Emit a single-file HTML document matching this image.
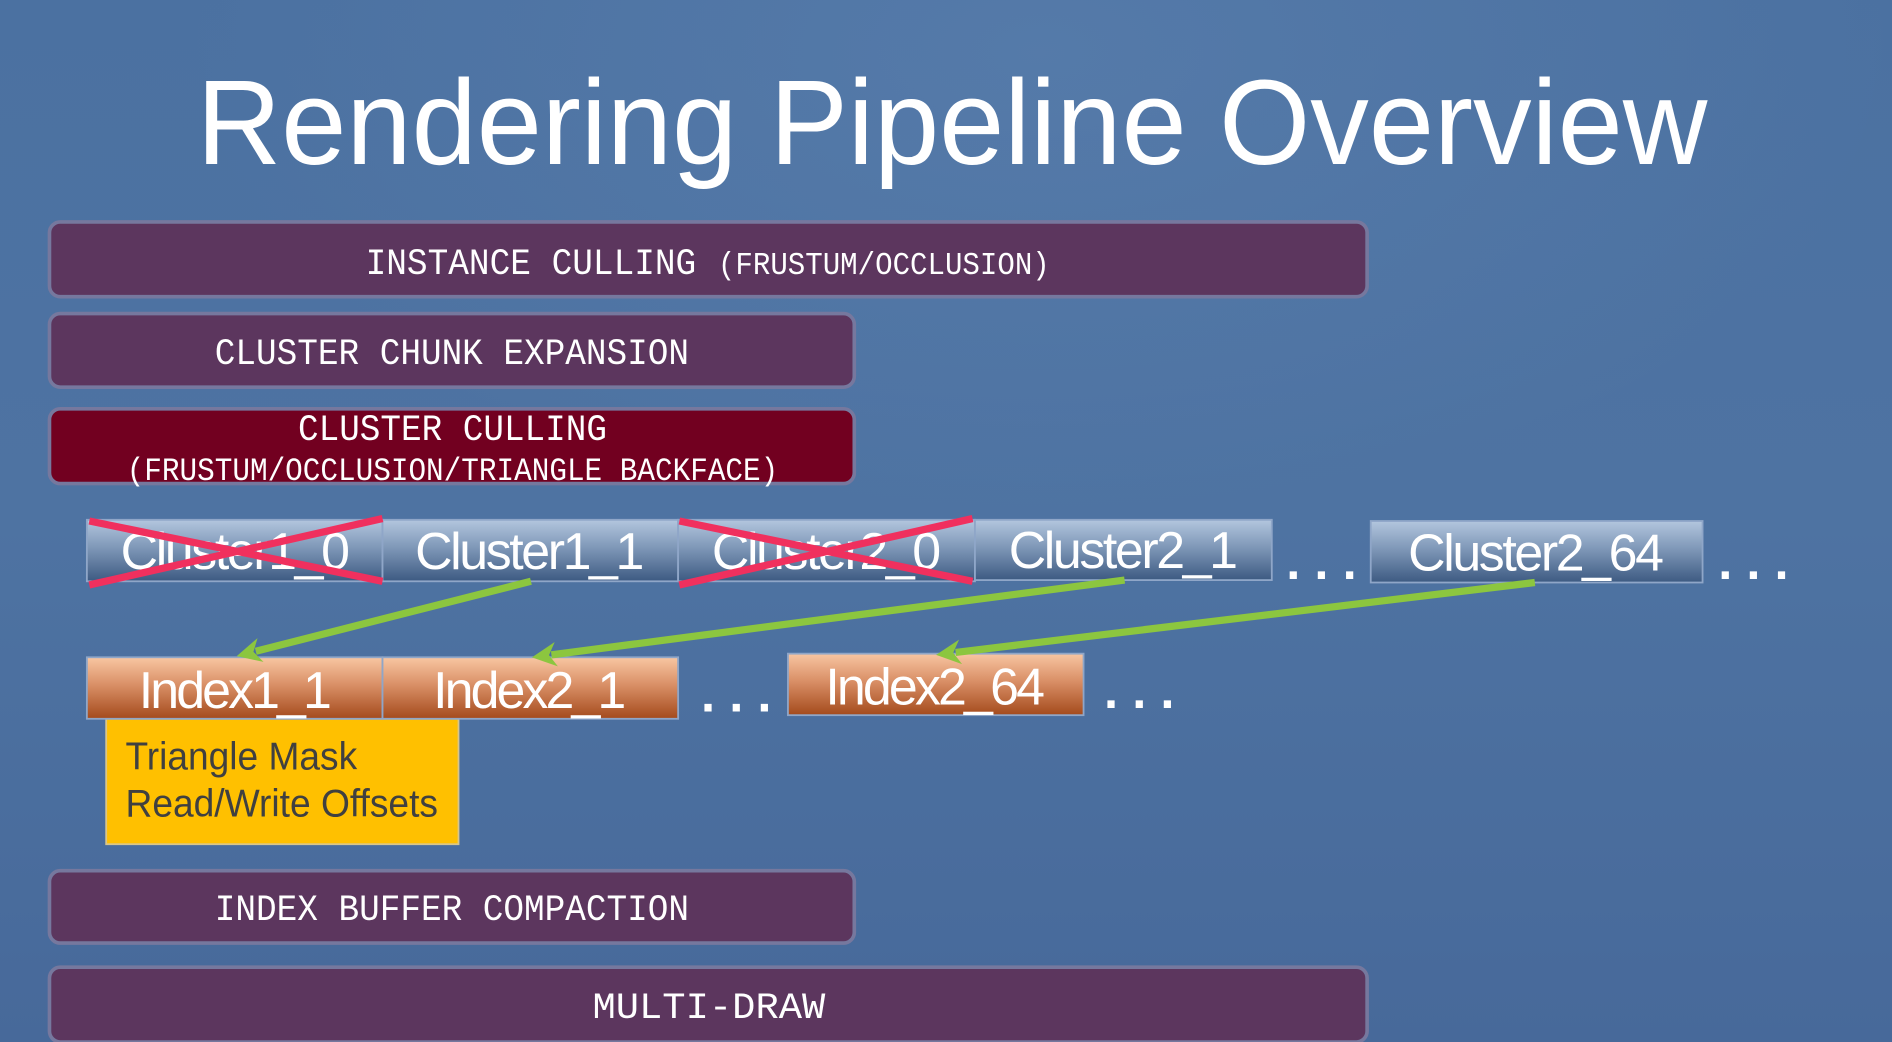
<!DOCTYPE html>
<html><head><meta charset="utf-8"><style>
html,body{margin:0;padding:0;width:1892px;height:1042px;overflow:hidden;background:#4a6f9f}
svg{display:block}
.m{font-family:"Liberation Mono","DejaVu Sans Mono",monospace;fill:#fff}
.s{font-family:"Liberation Sans",Arial,sans-serif;fill:#fff}
</style></head><body>
<svg width="1892" height="1042" viewBox="0 0 1568 864" preserveAspectRatio="none" xmlns="http://www.w3.org/2000/svg">
<defs>
<linearGradient id="bg" x1="0" y1="0" x2="0" y2="1">
<stop offset="0" stop-color="#4b71a1"/><stop offset="0.5" stop-color="#4e73a2"/><stop offset="1" stop-color="#47699a"/>
</linearGradient>
<radialGradient id="glow" cx="0.55" cy="0.05" r="0.45"><stop offset="0" stop-color="#6b8fbc" stop-opacity="0.3"/><stop offset="1" stop-color="#6b8fbc" stop-opacity="0"/></radialGradient>
<linearGradient id="cl" x1="0" y1="0" x2="0" y2="1">
<stop offset="0" stop-color="#b3c6de"/><stop offset="0.45" stop-color="#7f98b8"/><stop offset="1" stop-color="#3d5a82"/>
</linearGradient>
<linearGradient id="ix" x1="0" y1="0" x2="0" y2="1">
<stop offset="0" stop-color="#f8c6a2"/><stop offset="0.45" stop-color="#d98f66"/><stop offset="1" stop-color="#a44a1c"/>
</linearGradient>
<marker id="ah" viewBox="0 0 10 10" refX="2" refY="5" markerWidth="3.4" markerHeight="3.4" orient="auto">
<path d="M0,5 L10,0 L7,5 L10,10 Z" fill="#8cc63f" transform="rotate(180 5 5)"/>
</marker>
</defs>
<rect width="1568" height="864" fill="url(#bg)"/>
<rect width="1568" height="864" fill="url(#glow)"/>
<text x="789" y="136" class="s" font-size="100" text-anchor="middle" textLength="1252" lengthAdjust="spacingAndGlyphs">Rendering Pipeline Overview</text>

<g stroke="#76789e" stroke-width="3">
<rect x="41" y="184" width="1092" height="62" rx="9" fill="#5c365e"/>
<rect x="41" y="260" width="667" height="61" rx="9" fill="#5c365e"/>
<rect x="41" y="339" width="667" height="62" rx="9" fill="#720020"/>
<rect x="41" y="722" width="667" height="60" rx="9" fill="#5c365e"/>
<rect x="41" y="802" width="1092" height="62" rx="9" fill="#5c365e"/>
</g>
<text x="303" y="227" class="m" font-size="31" textLength="274" lengthAdjust="spacingAndGlyphs">INSTANCE CULLING</text>
<text x="595" y="227" class="m" font-size="26" textLength="275" lengthAdjust="spacingAndGlyphs">(FRUSTUM/OCCLUSION)</text>
<text x="178" y="302" class="m" font-size="31" textLength="393" lengthAdjust="spacingAndGlyphs">CLUSTER CHUNK EXPANSION</text>
<text x="247" y="365" class="m" font-size="31" textLength="256" lengthAdjust="spacingAndGlyphs">CLUSTER CULLING</text>
<text x="105" y="398" class="m" font-size="27" textLength="540" lengthAdjust="spacingAndGlyphs">(FRUSTUM/OCCLUSION/TRIANGLE BACKFACE)</text>
<text x="178" y="763" class="m" font-size="31" textLength="393" lengthAdjust="spacingAndGlyphs">INDEX BUFFER COMPACTION</text>
<text x="491" y="844" class="m" font-size="31" textLength="193" lengthAdjust="spacingAndGlyphs">MULTI-DRAW</text>

<g stroke="#8fa6c8" stroke-width="1.5">
<rect x="72" y="431" width="245" height="51" fill="url(#cl)"/>
<rect x="317" y="431" width="245" height="51" fill="url(#cl)"/>
<rect x="562" y="431" width="246" height="51" fill="url(#cl)"/>
<rect x="808" y="431" width="246" height="50" fill="url(#cl)"/>
<rect x="1136" y="432" width="275" height="51" fill="url(#cl)"/>
</g>
<g class="s" font-size="43" text-anchor="middle" lengthAdjust="spacingAndGlyphs">
<text x="195" y="472" textLength="190">Cluster1_0</text>
<text x="439" y="472" textLength="190">Cluster1_1</text>
<text x="685" y="472" textLength="190">Cluster2_0</text>
<text x="931" y="471" textLength="190">Cluster2_1</text>
<text x="1273" y="473" textLength="212">Cluster2_64</text>
</g>
<g stroke="#f0305e" stroke-width="6" stroke-linecap="butt">
<line x1="74" y1="432" x2="317" y2="482"/><line x1="74" y1="485" x2="317" y2="430"/>
<line x1="563" y1="432" x2="806" y2="482"/><line x1="563" y1="485" x2="806" y2="430"/>
</g>
<g class="s" font-size="42" font-weight="bold">
<text x="1066" y="480">. . .</text>
<text x="1424" y="480">. . .</text>
<text x="581" y="590">. . .</text>
<text x="915" y="587">. . .</text>
</g>

<rect x="88" y="596" width="292" height="104" fill="#ffc000" stroke="#d9c68a" stroke-width="1.5"/>
<text x="104" y="638" font-family="Liberation Sans,Arial,sans-serif" font-size="32" fill="#404040" textLength="192" lengthAdjust="spacingAndGlyphs">Triangle Mask</text>
<text x="104" y="677" font-family="Liberation Sans,Arial,sans-serif" font-size="32" fill="#404040" textLength="259" lengthAdjust="spacingAndGlyphs">Read/Write Offsets</text>

<g stroke="#8fa6c8" stroke-width="1.5">
<rect x="72" y="545" width="245" height="51" fill="url(#ix)"/>
<rect x="317" y="545" width="245" height="51" fill="url(#ix)"/>
<rect x="653" y="542" width="245" height="51" fill="url(#ix)"/>
</g>
<g class="s" font-size="43" text-anchor="middle" lengthAdjust="spacingAndGlyphs">
<text x="195" y="587" textLength="160">Index1_1</text>
<text x="439" y="587" textLength="160">Index2_1</text>
<text x="775" y="584" textLength="182">Index2_64</text>
</g>

<g stroke="#8cc63f" stroke-width="6" marker-end="url(#ah)">
<line x1="440" y1="482" x2="212" y2="540"/>
<line x1="932" y1="481" x2="457" y2="543"/>
<line x1="1272" y1="483" x2="792" y2="541"/>
</g>
</svg>
</body></html>
